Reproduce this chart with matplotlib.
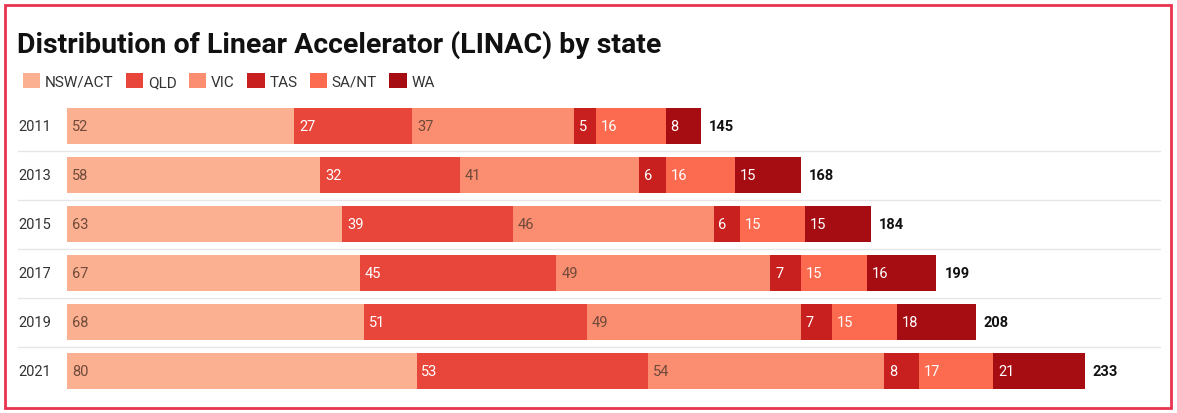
import matplotlib.pyplot as plt
from matplotlib.patches import Patch, Rectangle

years = ["2011", "2013", "2015", "2017", "2019", "2021"]
states = ["NSW/ACT", "QLD", "VIC", "TAS", "SA/NT", "WA"]
nsw = [52, 58, 63, 67, 68, 80]
qld = [27, 32, 39, 45, 51, 53]
vic = [37, 41, 46, 49, 49, 54]
tas = [5, 6, 6, 7, 7, 8]
sant = [16, 16, 15, 15, 15, 17]
wa = [8, 15, 15, 16, 18, 21]
totals = [145, 168, 184, 199, 208, 233]

series = [nsw, qld, vic, tas, sant, wa]
colors = ["#fcb092", "#e8463a", "#fb8d70", "#c8201f", "#fc6b4f", "#a50d12"]
text_colors = ["#6e4a3a", "white", "#6e4a3a", "white", "white", "white"]

plt.rcParams['font.family'] = ['Roboto', 'DejaVu Sans']

fig = plt.figure(figsize=(11.77, 4.14), dpi=100)
fig.patches.append(Rectangle((5 / 1177, 5 / 414), 1166 / 1177, 403 / 414,
                             transform=fig.transFigure, fill=False,
                             edgecolor="#e8344e", linewidth=2))

fig.text(17 / 1177, 1 - 45 / 414, "Distribution of Linear Accelerator (LINAC) by state",
         fontsize=20.5, fontweight="bold", color="#111111", va="center", ha="left")

handles = [Patch(facecolor=c, edgecolor="none") for c in colors]
fig.legend(handles, states, ncol=6, loc="center left",
           bbox_to_anchor=(9 / 1177, 1 - 82 / 414), frameon=False,
           handlelength=1.15, handleheight=1.15, handletextpad=0.3,
           columnspacing=0.8, fontsize=11, labelcolor="#333333")

ax = fig.add_axes([67 / 1177, 1 - 396.5 / 414, 1018 / 1177, 294 / 414])
ax.set_xlim(0, 233)
ax.set_ylim(5.5, -0.5)
ax.axis("off")

ypos = list(range(len(years)))
left = [0] * len(years)
for vals, col, tcol in zip(series, colors, text_colors):
    ax.barh(ypos, vals, left=left, height=0.74, color=col, edgecolor="none")
    for y, v, l in zip(ypos, vals, left):
        ax.text(l + 1.1, y, str(v), color=tcol, fontsize=10.5, va="center", ha="left")
    left = [a + b for a, b in zip(left, vals)]

for y, t in zip(ypos, totals):
    ax.text(t + 1.8, y, str(t), fontsize=10.5, fontweight="bold", color="#111111",
            va="center", ha="left")

for y, yr in zip(ypos, years):
    ax.text(-49 / 1018, y, yr, transform=ax.get_yaxis_transform(), fontsize=10.5,
            color="#333333", va="center", ha="left")

for i in range(len(years) - 1):
    ax.axhline(i + 0.5, xmin=-49 / 1018, xmax=1093 / 1018, color="#e6e6e6",
               linewidth=1, clip_on=False)

fig.savefig("out.png", dpi=100)
